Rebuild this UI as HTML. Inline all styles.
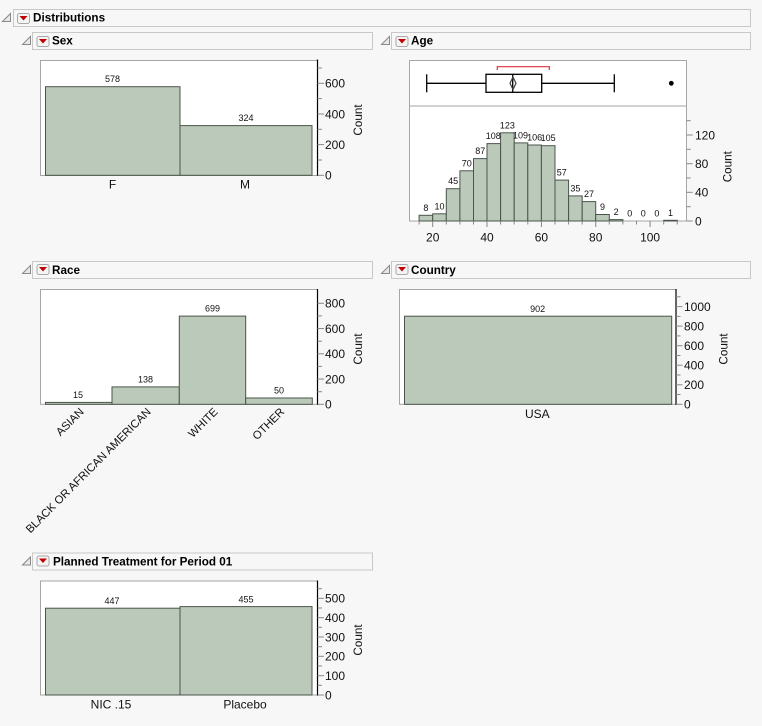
<!DOCTYPE html>
<html><head><meta charset="utf-8"><style>
html,body{margin:0;padding:0;background:#f7f7f7;}
svg{display:block;font-family:"Liberation Sans",sans-serif;}
.hd{fill:none;stroke:#c8c8c8;stroke-width:1;}
.ht{font-weight:bold;font-size:11.7px;fill:#000;}
.tri{fill:#e8e8e8;stroke:#8a8a8a;stroke-width:1;}
.btn{fill:#f4f4f4;stroke:#a8a8a8;stroke-width:1;}
.rd{fill:#c00000;}
.fr{fill:#fff;stroke:#a6a6a6;stroke-width:1;}
.bar{fill:#bac9ba;stroke:#4a554a;stroke-width:1;}
.ax{stroke:#000;stroke-width:1.2;}
.tk{stroke:#888;stroke-width:1;}
.tl{font-size:12px;fill:#111;}
.vl{font-size:9px;fill:#111;text-anchor:middle;}
.cl{font-size:12px;fill:#111;text-anchor:middle;}
.cnt{font-size:11.7px;fill:#111;text-anchor:middle;}
.rl{font-size:11.3px;fill:#111;text-anchor:end;}
</style></head><body>
<svg width="762" height="726" viewBox="0 0 762 726" xmlns="http://www.w3.org/2000/svg">
<rect x="0" y="0" width="762" height="726" fill="#f7f7f7"/>

<!-- Distributions header -->
<rect class="hd" x="13.5" y="9.5" width="737" height="17"/>
<polygon class="tri" points="2.5,21.5 10.5,13.5 10.5,21.5"/>
<rect class="btn" x="17.5" y="13.5" width="12" height="10" rx="2"/>
<polygon class="rd" points="19.5,16 27.5,16 23.5,20.5"/>
<text class="ht" x="33" y="21.5">Distributions</text>

<!-- Sex header -->
<rect class="hd" x="32.5" y="32.5" width="340" height="17"/>
<polygon class="tri" points="22.5,44.5 30.5,36.5 30.5,44.5"/>
<rect class="btn" x="37" y="36.5" width="12" height="10" rx="2"/>
<polygon class="rd" points="39,39 47,39 43,43.5"/>
<text class="ht" x="52" y="44.7">Sex</text>

<!-- Sex plot -->
<rect class="fr" x="40.5" y="60.5" width="277" height="115"/>
<rect class="bar" x="45.5" y="86.7" width="134.5" height="88.6"/>
<rect class="bar" x="180" y="125.6" width="132" height="49.7"/>
<line class="ax" x1="317.5" y1="59.5" x2="317.5" y2="176"/>
<g class="tk">
<line x1="317.5" y1="175.3" x2="324" y2="175.3"/><line x1="317.5" y1="160" x2="322" y2="160"/>
<line x1="317.5" y1="144.6" x2="324" y2="144.6"/><line x1="317.5" y1="129.3" x2="322" y2="129.3"/>
<line x1="317.5" y1="114" x2="324" y2="114"/><line x1="317.5" y1="98.6" x2="322" y2="98.6"/>
<line x1="317.5" y1="83.3" x2="324" y2="83.3"/><line x1="317.5" y1="68" x2="322" y2="68"/>
</g>
<text class="tl" x="325" y="179.6">0</text>
<text class="tl" x="325" y="148.9">200</text>
<text class="tl" x="325" y="118.3">400</text>
<text class="tl" x="325" y="87.6">600</text>
<text class="cnt" transform="translate(362,120) rotate(-90)">Count</text>
<text class="vl" x="112.5" y="82.2">578</text>
<text class="vl" x="246" y="121">324</text>
<text class="cl" x="112.5" y="188.5">F</text>
<text class="cl" x="245" y="188.5">M</text>

<!-- Age header -->
<rect class="hd" x="391.5" y="32.5" width="359" height="17"/>
<polygon class="tri" points="381.5,44.5 389.5,36.5 389.5,44.5"/>
<rect class="btn" x="396" y="36.5" width="12" height="10" rx="2"/>
<polygon class="rd" points="398,39 406,39 402,43.5"/>
<text class="ht" x="411" y="44.7">Age</text>

<!-- Age plot -->
<rect class="fr" x="409.5" y="60.5" width="277" height="160.5"/>
<line x1="409.5" y1="106" x2="686.5" y2="106" stroke="#a6a6a6" stroke-width="1"/>
<!-- box plot -->
<g stroke="#000" stroke-width="1.3" fill="none">
<line x1="426.7" y1="83.3" x2="486" y2="83.3"/>
<line x1="541.7" y1="83.3" x2="614.3" y2="83.3"/>
<line x1="426.7" y1="74.3" x2="426.7" y2="92.3"/>
<line x1="614.3" y1="74.3" x2="614.3" y2="92.3"/>
<rect x="486" y="74.3" width="55.7" height="18" fill="#fff"/>
<line x1="512.7" y1="74.3" x2="512.7" y2="92.3"/>
</g>
<polygon points="513,77 516,83.3 513,89.5 510,83.3" fill="none" stroke="#444" stroke-width="1.2"/>
<polyline points="497.3,70 497.3,66.7 549.3,66.7 549.3,70" fill="none" stroke="#e0303f" stroke-width="1.2"/>
<circle cx="671.3" cy="83.3" r="2.4" fill="#000"/>
<!-- histogram -->
<g class="bar">
<rect x="419.1" y="215.3" width="13.6" height="5.7"/>
<rect x="432.7" y="213.8" width="13.6" height="7.2"/>
<rect x="446.3" y="188.7" width="13.6" height="32.3"/>
<rect x="459.9" y="170.8" width="13.6" height="50.2"/>
<rect x="473.5" y="158.6" width="13.5" height="62.4"/>
<rect x="487" y="143.6" width="13.6" height="77.4"/>
<rect x="500.6" y="132.8" width="13.6" height="88.2"/>
<rect x="514.2" y="142.9" width="13.6" height="78.1"/>
<rect x="527.8" y="145" width="13.6" height="76"/>
<rect x="541.4" y="145.7" width="13.6" height="75.3"/>
<rect x="555" y="180.1" width="13.6" height="40.9"/>
<rect x="568.6" y="195.9" width="13.6" height="25.1"/>
<rect x="582.2" y="201.6" width="13.5" height="19.4"/>
<rect x="595.7" y="214.5" width="13.6" height="6.5"/>
<rect x="609.3" y="219.6" width="13.6" height="1.4"/>
<rect x="663.7" y="220.3" width="13.6" height="0.7"/>
</g>
<g class="vl">
<text x="425.9" y="210.8">8</text>
<text x="439.5" y="209.3">10</text>
<text x="453.1" y="184.2">45</text>
<text x="466.7" y="166.3">70</text>
<text x="480.3" y="154.1">87</text>
<text x="493.3" y="139.1">108</text>
<text x="507.4" y="128.3">123</text>
<text x="520.5" y="138.4">109</text>
<text x="534.6" y="140.5">106</text>
<text x="548.2" y="141.2">105</text>
<text x="561.8" y="175.6">57</text>
<text x="575.4" y="191.4">35</text>
<text x="589" y="197.1">27</text>
<text x="602.5" y="210">9</text>
<text x="616.1" y="215.1">2</text>
<text x="629.7" y="216.5">0</text>
<text x="643.3" y="216.5">0</text>
<text x="656.9" y="216.5">0</text>
<text x="670.5" y="215.8">1</text>
</g>
<g class="tk">
<line x1="686.5" y1="221" x2="692.7" y2="221"/><line x1="686.5" y1="206.7" x2="690.7" y2="206.7"/>
<line x1="686.5" y1="192.3" x2="692.7" y2="192.3"/><line x1="686.5" y1="178" x2="690.7" y2="178"/>
<line x1="686.5" y1="163.7" x2="692.7" y2="163.7"/><line x1="686.5" y1="149.3" x2="690.7" y2="149.3"/>
<line x1="686.5" y1="135" x2="692.7" y2="135"/><line x1="686.5" y1="120.7" x2="690.7" y2="120.7"/>
<!-- x ticks -->
<line x1="419.1" y1="221" x2="419.1" y2="224.5"/>
<line x1="432.7" y1="221" x2="432.7" y2="227"/>
<line x1="446.3" y1="221" x2="446.3" y2="224.5"/>
<line x1="459.9" y1="221" x2="459.9" y2="224.5"/>
<line x1="473.5" y1="221" x2="473.5" y2="224.5"/>
<line x1="487" y1="221" x2="487" y2="227"/>
<line x1="500.6" y1="221" x2="500.6" y2="224.5"/>
<line x1="514.2" y1="221" x2="514.2" y2="224.5"/>
<line x1="527.8" y1="221" x2="527.8" y2="224.5"/>
<line x1="541.4" y1="221" x2="541.4" y2="227"/>
<line x1="555" y1="221" x2="555" y2="224.5"/>
<line x1="568.6" y1="221" x2="568.6" y2="224.5"/>
<line x1="582.2" y1="221" x2="582.2" y2="224.5"/>
<line x1="595.7" y1="221" x2="595.7" y2="227"/>
<line x1="609.3" y1="221" x2="609.3" y2="224.5"/>
<line x1="622.9" y1="221" x2="622.9" y2="224.5"/>
<line x1="636.5" y1="221" x2="636.5" y2="224.5"/>
<line x1="650.1" y1="221" x2="650.1" y2="227"/>
<line x1="663.7" y1="221" x2="663.7" y2="224.5"/>
<line x1="677.3" y1="221" x2="677.3" y2="224.5"/>
</g>
<text class="tl" x="695" y="225.3">0</text>
<text class="tl" x="695" y="196.6">40</text>
<text class="tl" x="695" y="168">80</text>
<text class="tl" x="695" y="139.3">120</text>
<text class="cl" x="432.7" y="241.5">20</text>
<text class="cl" x="487" y="241.5">40</text>
<text class="cl" x="541.4" y="241.5">60</text>
<text class="cl" x="595.7" y="241.5">80</text>
<text class="cl" x="650.1" y="241.5">100</text>
<text class="cnt" transform="translate(731.5,166.7) rotate(-90)">Count</text>

<!-- Race header -->
<rect class="hd" x="32.5" y="261.5" width="340" height="17"/>
<polygon class="tri" points="22.5,273.5 30.5,265.5 30.5,273.5"/>
<rect class="btn" x="37" y="264.5" width="12" height="10" rx="2"/>
<polygon class="rd" points="39,267 47,267 43,271.5"/>
<text class="ht" x="52" y="274">Race</text>

<!-- Race plot -->
<rect class="fr" x="40.5" y="289.5" width="277" height="114.8"/>
<rect class="bar" x="45.5" y="402.4" width="66.5" height="1.9"/>
<rect class="bar" x="112" y="386.9" width="67.3" height="17.4"/>
<rect class="bar" x="179.3" y="316.1" width="66.4" height="88.2"/>
<rect class="bar" x="245.7" y="398" width="66.6" height="6.3"/>
<line class="ax" x1="317.5" y1="289" x2="317.5" y2="405"/>
<g class="tk">
<line x1="317.5" y1="404.3" x2="324" y2="404.3"/><line x1="317.5" y1="391.7" x2="322" y2="391.7"/>
<line x1="317.5" y1="379.05" x2="324" y2="379.05"/><line x1="317.5" y1="366.4" x2="322" y2="366.4"/>
<line x1="317.5" y1="353.8" x2="324" y2="353.8"/><line x1="317.5" y1="341.2" x2="322" y2="341.2"/>
<line x1="317.5" y1="328.55" x2="324" y2="328.55"/><line x1="317.5" y1="315.9" x2="322" y2="315.9"/>
<line x1="317.5" y1="303.3" x2="324" y2="303.3"/>
</g>
<text class="tl" x="325" y="408.6">0</text>
<text class="tl" x="325" y="383.4">200</text>
<text class="tl" x="325" y="358.1">400</text>
<text class="tl" x="325" y="332.9">600</text>
<text class="tl" x="325" y="307.6">800</text>
<text class="cnt" transform="translate(362,349) rotate(-90)">Count</text>
<text class="vl" x="78" y="398">15</text>
<text class="vl" x="145.5" y="382.5">138</text>
<text class="vl" x="212.5" y="311.5">699</text>
<text class="vl" x="279" y="393.5">50</text>
<text class="rl" transform="translate(84.5,412.5) rotate(-45)">ASIAN</text>
<text class="rl" transform="translate(151.5,412.5) rotate(-45)">BLACK OR AFRICAN AMERICAN</text>
<text class="rl" transform="translate(218.5,412.5) rotate(-45)">WHITE</text>
<text class="rl" transform="translate(285,412.5) rotate(-45)">OTHER</text>

<!-- Country header -->
<rect class="hd" x="391.5" y="261.5" width="359" height="17"/>
<polygon class="tri" points="381.5,273.5 389.5,265.5 389.5,273.5"/>
<rect class="btn" x="396" y="264.5" width="12" height="10" rx="2"/>
<polygon class="rd" points="398,267 406,267 402,271.5"/>
<text class="ht" x="411" y="274">Country</text>

<!-- Country plot -->
<rect class="fr" x="399.5" y="289.5" width="276.5" height="114.8"/>
<rect class="bar" x="404.5" y="316.2" width="267.2" height="88.1"/>
<line class="ax" x1="676" y1="289" x2="676" y2="405"/>
<g class="tk">
<line x1="676" y1="404.3" x2="682.5" y2="404.3"/><line x1="676" y1="394.5" x2="680.5" y2="394.5"/>
<line x1="676" y1="384.8" x2="682.5" y2="384.8"/><line x1="676" y1="375" x2="680.5" y2="375"/>
<line x1="676" y1="365.2" x2="682.5" y2="365.2"/><line x1="676" y1="355.5" x2="680.5" y2="355.5"/>
<line x1="676" y1="345.7" x2="682.5" y2="345.7"/><line x1="676" y1="335.9" x2="680.5" y2="335.9"/>
<line x1="676" y1="326.1" x2="682.5" y2="326.1"/><line x1="676" y1="316.4" x2="680.5" y2="316.4"/>
<line x1="676" y1="306.6" x2="682.5" y2="306.6"/><line x1="676" y1="296.8" x2="680.5" y2="296.8"/>
</g>
<text class="tl" x="684" y="408.6">0</text>
<text class="tl" x="684" y="389.1">200</text>
<text class="tl" x="684" y="369.5">400</text>
<text class="tl" x="684" y="350">600</text>
<text class="tl" x="684" y="330.4">800</text>
<text class="tl" x="684" y="310.9">1000</text>
<text class="cnt" transform="translate(727.5,349) rotate(-90)">Count</text>
<text class="vl" x="537.7" y="311.8">902</text>
<text class="cl" x="537.3" y="417.8">USA</text>

<!-- Planned header -->
<rect class="hd" x="32.5" y="553" width="340" height="17"/>
<polygon class="tri" points="22.5,565 30.5,557 30.5,565"/>
<rect class="btn" x="37" y="556" width="12" height="10" rx="2"/>
<polygon class="rd" points="39,558.5 47,558.5 43,563"/>
<text class="ht" x="53" y="565.3">Planned Treatment for Period 01</text>

<!-- Planned plot -->
<rect class="fr" x="40.5" y="581" width="277" height="114"/>
<rect class="bar" x="45.5" y="608.2" width="134.5" height="86.8"/>
<rect class="bar" x="180" y="606.6" width="132" height="88.4"/>
<line class="ax" x1="317.5" y1="580.5" x2="317.5" y2="695.7"/>
<g class="tk">
<line x1="317.5" y1="695" x2="324" y2="695"/><line x1="317.5" y1="685.3" x2="322" y2="685.3"/>
<line x1="317.5" y1="675.7" x2="324" y2="675.7"/><line x1="317.5" y1="666" x2="322" y2="666"/>
<line x1="317.5" y1="656.3" x2="324" y2="656.3"/><line x1="317.5" y1="646.7" x2="322" y2="646.7"/>
<line x1="317.5" y1="637" x2="324" y2="637"/><line x1="317.5" y1="627.3" x2="322" y2="627.3"/>
<line x1="317.5" y1="617.7" x2="324" y2="617.7"/><line x1="317.5" y1="608" x2="322" y2="608"/>
<line x1="317.5" y1="598.3" x2="324" y2="598.3"/><line x1="317.5" y1="588.7" x2="322" y2="588.7"/>
</g>
<text class="tl" x="325" y="699.3">0</text>
<text class="tl" x="325" y="680">100</text>
<text class="tl" x="325" y="660.6">200</text>
<text class="tl" x="325" y="641.3">300</text>
<text class="tl" x="325" y="622">400</text>
<text class="tl" x="325" y="602.6">500</text>
<text class="cnt" transform="translate(362,640) rotate(-90)">Count</text>
<text class="vl" x="112" y="603.8">447</text>
<text class="vl" x="246" y="602.3">455</text>
<text class="cl" x="111" y="708.6">NIC .15</text>
<text class="cl" x="245" y="708.6">Placebo</text>
</svg>
</body></html>
